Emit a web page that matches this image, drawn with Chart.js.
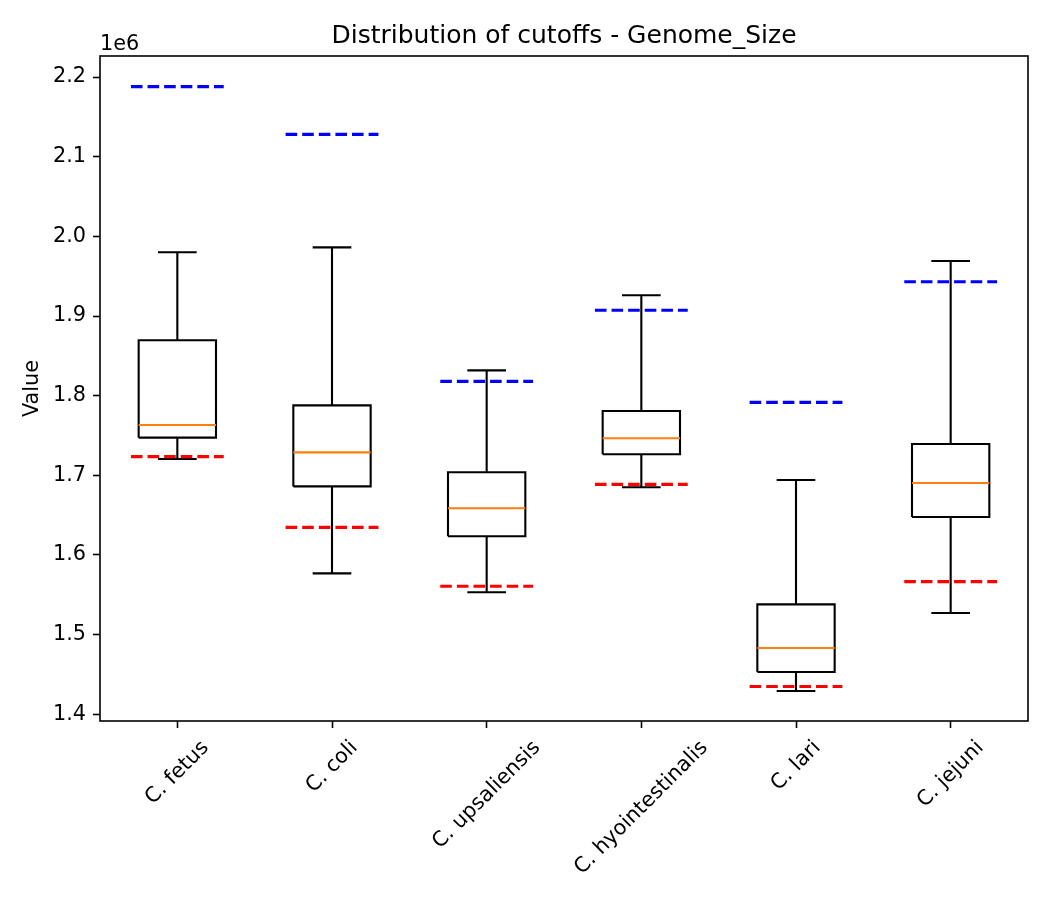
<!DOCTYPE html>
<html>
<head>
<meta charset="utf-8">
<title>Distribution of cutoffs - Genome_Size</title>
<script src="https://cdn.jsdelivr.net/npm/chart.js@4.4.1/dist/chart.umd.min.js"></script>
<style>
  body { margin: 0; background: #fff; }
</style>
</head>
<body>
<canvas id="myChart" width="1050" height="900"></canvas>
<script>
// values (genome size, bp)
const categories = ['C. fetus', 'C. coli', 'C. upsaliensis', 'C. hyointestinalis', 'C. lari', 'C. jejuni'];
const whiskerLow  = [1.7205e6, 1.5769e6, 1.5532e6, 1.6850e6, 1.4292e6, 1.5271e6];
const q1          = [1.7473e6, 1.6861e6, 1.6235e6, 1.7264e6, 1.4531e6, 1.6477e6];
const median      = [1.7631e6, 1.7288e6, 1.6586e6, 1.7465e6, 1.4832e6, 1.6903e6];
const q3          = [1.8695e6, 1.7878e6, 1.7038e6, 1.7807e6, 1.5380e6, 1.7393e6];
const whiskerHigh = [1.9800e6, 1.9862e6, 1.8318e6, 1.9260e6, 1.6941e6, 1.9690e6];
const upperCutoff = [2.1880e6, 2.1280e6, 1.8180e6, 1.9072e6, 1.7916e6, 1.9431e6];
const lowerCutoff = [1.7235e6, 1.6347e6, 1.5607e6, 1.6887e6, 1.4350e6, 1.5666e6];
const yTicks = [1.4e6, 1.5e6, 1.6e6, 1.7e6, 1.8e6, 1.9e6, 2.0e6, 2.1e6, 2.2e6];

const FONT = "'DejaVu Sans'";
const TICK_SIZE = 20.8;
const BOX_HALF = 0.25, CAP_HALF = 0.125, CUT_HALF = 0.3;
const positions = categories.map((c, i) => i + 1);

Chart.defaults.color = '#000';
Chart.defaults.font.family = FONT;

// put several segments into one dataset, broken by null points
function segments(parts) {
  const out = [];
  parts.forEach(p => { out.push(...p, { x: p[0].x, y: null }); });
  return out;
}
function hline(vals, half) {
  return segments(positions.map((p, i) => [{ x: p - half, y: vals[i] }, { x: p + half, y: vals[i] }]));
}

const boxes = segments(positions.map((p, i) => [
  { x: p - BOX_HALF, y: q1[i] }, { x: p + BOX_HALF, y: q1[i] },
  { x: p + BOX_HALF, y: q3[i] }, { x: p - BOX_HALF, y: q3[i] },
  { x: p - BOX_HALF, y: q1[i] }
]));
const whiskers = segments(positions.flatMap((p, i) => [
  [{ x: p, y: q1[i] }, { x: p, y: whiskerLow[i] }],
  [{ x: p, y: q3[i] }, { x: p, y: whiskerHigh[i] }]
]));
const caps = segments(positions.flatMap((p, i) => [
  [{ x: p - CAP_HALF, y: whiskerLow[i] }, { x: p + CAP_HALF, y: whiskerLow[i] }],
  [{ x: p - CAP_HALF, y: whiskerHigh[i] }, { x: p + CAP_HALF, y: whiskerHigh[i] }]
]));

const lineStyle = { showLine: true, pointRadius: 0, spanGaps: false, tension: 0, borderCapStyle: 'butt' };

// matplotlib-like frame, x labels rotated around their centre and the 1e6 offset
const extras = {
  id: 'extras',
  afterDraw(chart) {
    const { ctx, chartArea: a } = chart;
    const xs = chart.scales.x;
    ctx.save();
    ctx.strokeStyle = '#000';
    ctx.lineWidth = 1.6;
    ctx.strokeRect(a.left, a.top, a.right - a.left, a.bottom - a.top);

    ctx.fillStyle = '#000';
    ctx.font = TICK_SIZE + 'px ' + FONT;
    ctx.textAlign = 'left';
    ctx.textBaseline = 'alphabetic';
    ctx.fillText('1e6', a.left, 50);

    const top = a.bottom + 15;
    categories.forEach((c, i) => {
      const w = ctx.measureText(c).width;
      const h = TICK_SIZE * 1.17;
      const side = (w + h) * Math.SQRT1_2;
      ctx.save();
      ctx.translate(xs.getPixelForValue(positions[i]), top + side / 2);
      ctx.rotate(-Math.PI / 4);
      ctx.textAlign = 'center';
      ctx.textBaseline = 'middle';
      ctx.fillText(c, 0, 0);
      ctx.restore();
    });
    ctx.restore();
  }
};

new Chart(document.getElementById('myChart').getContext('2d'), {
  type: 'scatter',
  data: {
    datasets: [
      Object.assign({ label: 'upper cutoff', data: hline(upperCutoff, CUT_HALF), borderColor: '#0000ff', borderWidth: 3.1, borderDash: [11.6, 5] }, lineStyle),
      Object.assign({ label: 'lower cutoff', data: hline(lowerCutoff, CUT_HALF), borderColor: '#ff0000', borderWidth: 3.1, borderDash: [11.6, 5] }, lineStyle),
      Object.assign({ label: 'median', data: hline(median, BOX_HALF), borderColor: '#ff7f0e', borderWidth: 2.1 }, lineStyle),
      Object.assign({ label: 'box', data: boxes, borderColor: '#000', borderWidth: 2.1, borderJoinStyle: 'miter' }, lineStyle),
      Object.assign({ label: 'whiskers', data: whiskers, borderColor: '#000', borderWidth: 2.1 }, lineStyle),
      Object.assign({ label: 'caps', data: caps, borderColor: '#000', borderWidth: 2.1 }, lineStyle)
    ]
  },
  options: {
    responsive: false,
    animation: false,
    events: [],
    layout: { padding: { left: 0, right: 22, top: 0, bottom: 0 } },
    plugins: {
      legend: { display: false },
      tooltip: { enabled: false },
      title: {
        display: true,
        text: 'Distribution of cutoffs - Genome_Size',
        fullSize: false,
        color: '#000',
        font: { size: 25, weight: 'normal', family: FONT },
        padding: { top: 21, bottom: 5 }
      }
    },
    scales: {
      x: {
        type: 'linear',
        min: 0.5,
        max: 6.5,
        afterBuildTicks: s => { s.ticks = positions.map(v => ({ value: v })); },
        afterFit: s => { s.height = 179; },
        grid: { drawOnChartArea: false, drawTicks: true, tickLength: 7, tickWidth: 1.6, tickColor: '#000' },
        border: { display: false },
        ticks: { display: false }
      },
      y: {
        min: 1.3916e6,
        max: 2.2264e6,
        afterBuildTicks: s => { s.ticks = yTicks.map(v => ({ value: v })); },
        afterFit: s => { s.width = 100; },
        grid: { drawOnChartArea: false, drawTicks: true, tickLength: 7, tickWidth: 1.6, tickColor: '#000' },
        border: { display: false },
        ticks: {
          padding: 7,
          color: '#000',
          font: { size: TICK_SIZE, family: FONT },
          callback: v => (v / 1e6).toFixed(1)
        },
        title: {
          display: true,
          text: 'Value',
          color: '#000',
          font: { size: TICK_SIZE, family: FONT },
          padding: { top: 20, bottom: 0 }
        }
      }
    }
  },
  plugins: [extras]
});
</script>
</body>
</html>
